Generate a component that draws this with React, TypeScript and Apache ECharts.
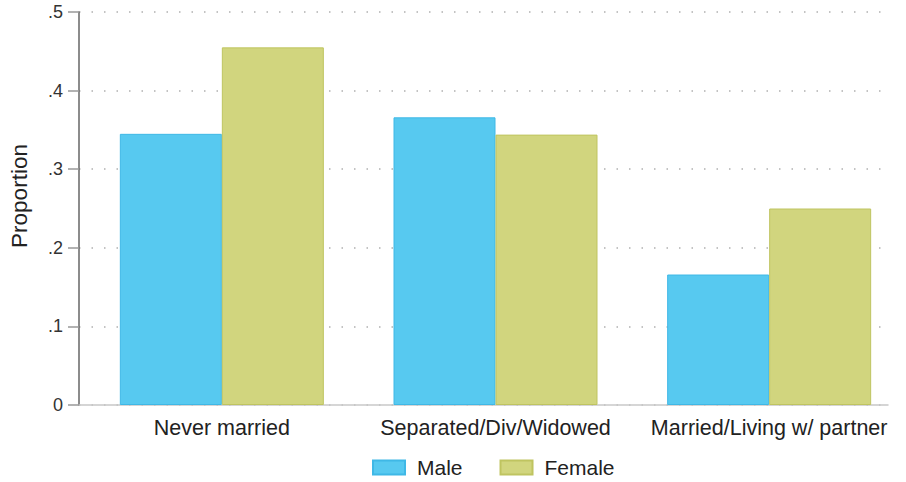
import React, { useEffect, useRef } from "react";
import * as echarts from "echarts";

const categories = ["Never married", "Separated/Div/Widowed", "Married/Living w/ partner"];
const maleValues = [0.345, 0.366, 0.166];
const femaleValues = [0.455, 0.344, 0.25];
const yTicks = [0, 0.1, 0.2, 0.3, 0.4, 0.5];
const yTitle = "Proportion";

const FONT = "'Liberation Sans', Arial, sans-serif";

export default function App() {
  const ref = useRef<HTMLDivElement>(null);
  useEffect(() => {
    if (!ref.current) return;
    const chart = echarts.init(ref.current, null, { renderer: "svg" });
    const fmt = (v: number) => (v === 0 ? "0" : String(Math.round(v * 10) / 10).replace(/^0/, ""));
    chart.setOption({
      animation: false,
      backgroundColor: "#ffffff",
      textStyle: { fontFamily: FONT },
      grid: [
        { left: 79, right: 18, top: 12, bottom: 77, outerBoundsMode: "none", containLabel: false },
        { left: 85, right: 0, top: 12, bottom: 77, outerBoundsMode: "none", containLabel: false },
      ],
      graphic: [
        {
          type: "text",
          x: 19,
          y: 196,
          rotation: Math.PI / 2,
          style: {
            text: yTitle,
            fontSize: 22.5,
            fontFamily: FONT,
            fill: "#222",
            align: "center",
            verticalAlign: "middle",
          },
        },
      ],
      legend: {
        left: 372,
        top: 457,
        padding: 0,
        itemWidth: 32,
        itemHeight: 14,
        itemGap: 37,
        icon: "rect",
        textStyle: { fontSize: 21, color: "#222", fontFamily: FONT, padding: [0, 0, 0, 7] },
        data: ["Male", "Female"],
      },
      xAxis: [
        {
          gridIndex: 0,
          type: "value",
          min: 0,
          max: 1,
          axisLine: { show: true, lineStyle: { color: "#c8c8c8", width: 1.5 } },
          axisTick: { show: false },
          axisLabel: { show: false },
          splitLine: { show: false },
        },
        {
          gridIndex: 1,
          type: "category",
          data: categories,
          axisLine: { show: false },
          axisTick: { show: false },
          axisLabel: { fontSize: 21.5, color: "#222", margin: 12, fontFamily: FONT, interval: 0, hideOverlap: false },
        },
      ],
      yAxis: [
        {
          gridIndex: 0,
          type: "value",
          min: 0,
          max: 0.5,
          interval: 0.1,
          axisLine: { show: true, lineStyle: { color: "#666", width: 1.5 } },
          axisTick: { show: true, length: 11, lineStyle: { color: "#999", width: 1.5 } },
          axisLabel: { fontSize: 18, color: "#333", margin: 16, formatter: fmt, fontFamily: FONT },
          splitLine: { show: true, lineStyle: { color: "#b0b0b0", type: [1.5, 11], width: 1.5 } },
        },
        {
          gridIndex: 1,
          type: "value",
          min: 0,
          max: 0.5,
          interval: 0.1,
          show: false,
          splitLine: { show: false },
        },
      ],
      series: [
        {
          name: "Male",
          type: "bar",
          xAxisIndex: 1,
          yAxisIndex: 1,
          data: maleValues,
          barWidth: 102,
          barGap: "0%",
          itemStyle: { color: "#57c9f0", borderColor: "#3fb8e6", borderWidth: 1 },
        },
        {
          name: "Female",
          type: "bar",
          xAxisIndex: 1,
          yAxisIndex: 1,
          data: femaleValues,
          barWidth: 102,
          barGap: "0%",
          itemStyle: { color: "#d1d57e", borderColor: "#bfc460", borderWidth: 1 },
        },
      ],
    });
    return () => chart.dispose();
  }, []);
  return <div ref={ref} style={{ width: 906, height: 482, position: "fixed", left: 0, top: 0 }} />;
}
